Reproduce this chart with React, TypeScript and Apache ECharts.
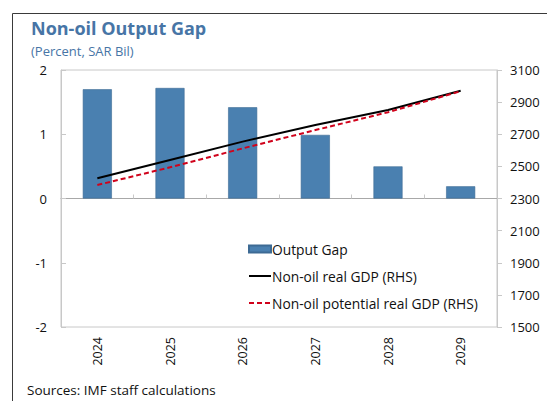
import React, { useEffect, useRef } from "react";
import * as echarts from "echarts";

const years = ["2024", "2025", "2026", "2027", "2028", "2029"];
const outputGap = [1.7, 1.72, 1.42, 0.99, 0.5, 0.19];
const realGdp = [2426, 2540, 2654, 2758, 2851, 2971];
const potentialGdp = [2384, 2494, 2612, 2726, 2837, 2968];

const FONT = "'Open Sans', 'Noto Sans', sans-serif";

export default function App() {
  const ref = useRef<HTMLDivElement>(null);
  useEffect(() => {
    if (!ref.current) return;
    const chart = echarts.init(ref.current, undefined, { renderer: "svg" });
    chart.setOption({
      animation: false,
      textStyle: { fontFamily: FONT },
      graphic: [
        {
          type: "rect",
          shape: { x: 12.5, y: 13.5, width: 600, height: 500 },
          style: { fill: "none", stroke: "#3a3a3a", lineWidth: 1 },
          silent: true,
        },
        {
          type: "text",
          left: 31,
          top: 19,
          style: { text: "Non-oil Output Gap", fill: "#4775a6", font: `bold 18px ${FONT}` },
        },
        {
          type: "text",
          left: 31,
          top: 44,
          style: { text: "(Percent, SAR Bil)", fill: "#4775a6", font: `13px ${FONT}` },
        },
        {
          type: "text",
          left: 27,
          top: 383,
          style: { text: "Sources: IMF staff calculations", fill: "#111", font: `13.5px ${FONT}` },
        },
      ],
      grid: {
        left: 61,
        right: 50,
        top: 70,
        bottom: 74,
        show: true,
        borderColor: "#c8c8c8",
        borderWidth: 1,
        containLabel: false,
      },
      legend: {
        orient: "vertical",
        left: 243,
        top: 237,
        itemGap: 13,
        itemWidth: 22,
        itemHeight: 7,
        textStyle: { fontFamily: FONT, fontSize: 13.8, color: "#111", padding: [0, 0, 0, -4] },
        data: [
          { name: "Output Gap", icon: "rect" },
          { name: "Non-oil real GDP (RHS)", itemStyle: { opacity: 0 } },
          { name: "Non-oil potential real GDP (RHS)", itemStyle: { opacity: 0 } },
        ],
      },
      xAxis: [
        {
          type: "category",
          data: years,
          position: "bottom",
          axisLine: { onZero: false, show: false },
          axisTick: { show: false },
          axisLabel: { rotate: 90, fontSize: 12.5, color: "#111", margin: 10, fontFamily: FONT },
        },
        {
          type: "category",
          data: years,
          position: "bottom",
          axisLine: { onZero: true, show: true, lineStyle: { color: "#a8a8a8" } },
          axisTick: { show: true, inside: true, length: 4, lineStyle: { color: "#c8c8c8" } },
          axisLabel: { show: false },
        },
      ],
      yAxis: [
        {
          type: "value",
          min: -2,
          max: 2,
          interval: 1,
          axisLine: { show: true, lineStyle: { color: "#c8c8c8" } },
          axisTick: { show: true, inside: true, length: 5, lineStyle: { color: "#c8c8c8" } },
          axisLabel: { fontSize: 13, color: "#111", margin: 14, fontFamily: FONT },
          splitLine: { show: false },
        },
        {
          type: "value",
          min: 1500,
          max: 3100,
          interval: 200,
          position: "right",
          axisLine: { show: true, lineStyle: { color: "#c8c8c8" } },
          axisTick: { show: true, inside: false, length: 5, lineStyle: { color: "#c8c8c8" } },
          axisLabel: {
            fontSize: 13,
            color: "#111",
            margin: 13,
            fontFamily: FONT,
            formatter: (v: number) => String(v),
          },
          splitLine: { show: false },
        },
      ],
      series: [
        {
          name: "Output Gap",
          type: "bar",
          xAxisIndex: 0,
          yAxisIndex: 0,
          data: outputGap,
          barWidth: "40%",
          itemStyle: { color: "#4a80b0", borderColor: "#3d6a94", borderWidth: 0.6 },
        },
        {
          name: "Non-oil real GDP (RHS)",
          type: "line",
          xAxisIndex: 0,
          yAxisIndex: 1,
          data: realGdp,
          symbol: "none",
          lineStyle: { color: "#000", width: 2 },
          itemStyle: { color: "#000" },
          z: 3,
        },
        {
          name: "Non-oil potential real GDP (RHS)",
          type: "line",
          xAxisIndex: 0,
          yAxisIndex: 1,
          data: potentialGdp,
          symbol: "none",
          lineStyle: { color: "#d0021b", width: 2, type: [5, 3] },
          itemStyle: { color: "#d0021b" },
          z: 4,
        },
      ],
    });
    return () => chart.dispose();
  }, []);
  return <div ref={ref} style={{ width: 547, height: 401, position: "absolute", left: 0, top: 0 }} />;
}
